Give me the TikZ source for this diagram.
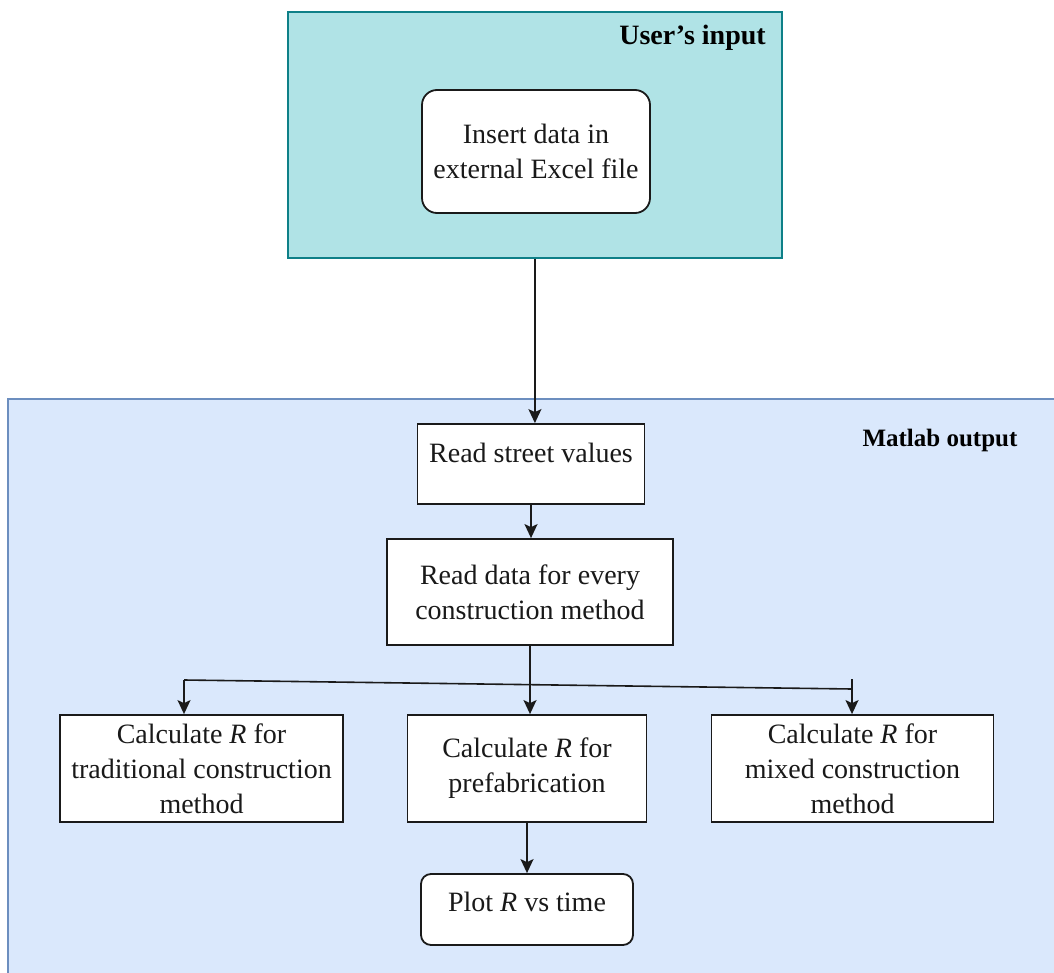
\documentclass[tikz,border=0pt]{standalone}
\usepackage{fontspec}
\setmainfont{Liberation Serif}
\usetikzlibrary{arrows.meta,calc}
\definecolor{tealfill}{HTML}{B0E3E6}
\definecolor{tealdraw}{HTML}{0E8088}
\definecolor{bluefill}{HTML}{DAE8FC}
\definecolor{bluedraw}{HTML}{6C8EBF}
\definecolor{edge}{HTML}{1A1A1A}
\begin{document}
\begin{tikzpicture}[x=1pt,y=-1pt,
  txt/.style={font=\fontsize{28}{35}\selectfont, align=center, text=black!90},
  procbox/.style={draw=edge, fill=white, line width=1.8pt, rectangle, inner sep=0pt, txt},
  roundbox/.style={procbox, rounded corners=#1},
  arr/.style={-{Stealth[length=14pt,width=13pt,inset=3pt]}, line width=1.6pt, draw=edge},
  plainline/.style={line width=1.6pt, draw=edge}]
\useasboundingbox (0,0) rectangle (1054,973);
\begin{scope}
\clip (0,0) rectangle (1054,973);
\node[draw=bluedraw, fill=bluefill, line width=1.8pt, rectangle, inner sep=0pt,
      minimum width=1080, minimum height=600, anchor=north west] (matlab) at (7,398) {};
\end{scope}
\node[draw=tealdraw, fill=tealfill, line width=1.8pt, rectangle, inner sep=0pt,
      minimum width=494, minimum height=246, anchor=north west] (user) at (287,11) {};
\node[font=\bfseries\fontsize{28}{34}\selectfont, anchor=east, inner sep=0pt] (usertitle) at (766,38) {User{\char"0027}s input};
\node[font=\bfseries\fontsize{25}{30}\selectfont, inner sep=0pt] (matlabtitle) at (940,440) {Matlab output};

\node[roundbox=15pt, minimum width=228, minimum height=123] (ins) at (536,151.5) {Insert data in\\external Excel file};
\node[procbox, minimum width=227, minimum height=80,
      label={[txt,yshift=11pt]center:Read street values}] (rs) at (531,464) {};
\node[procbox, minimum width=286, minimum height=106] (rd) at (530,592) {Read data for every\\construction method};
\node[procbox, minimum width=283, minimum height=107] (left) at (201.5,768.5) {Calculate \textit{R} for\\traditional construction\\method};
\node[procbox, minimum width=239, minimum height=107] (mid) at (527,768.5) {Calculate \textit{R} for\\prefabrication};
\node[procbox, minimum width=282, minimum height=107] (right) at (852.5,768.5) {Calculate \textit{R} for\\mixed construction\\method};
\node[roundbox=10pt, minimum width=212, minimum height=71,
      label={[txt,yshift=7.5pt]center:Plot \textit{R} vs time}] (plot) at (527,909.5) {};

\draw[arr] (user.south) -- (user.south |- rs.north);
\draw[arr] (rs.south) -- (rs.south |- rd.north);
\draw[arr] (rd.south) -- (rd.south |- mid.north);
\coordinate (jl) at (184,680);
\coordinate (jr) at (852,689);
\coordinate (jt) at (852,679);
\draw[plainline] (jl) -- (jr);
\draw[arr] (jl) -- (jl |- left.north);
\draw[arr] (jt) -- (jt |- right.north);
\draw[arr] (mid.south) -- (mid.south |- plot.north);
\end{tikzpicture}
\end{document}
